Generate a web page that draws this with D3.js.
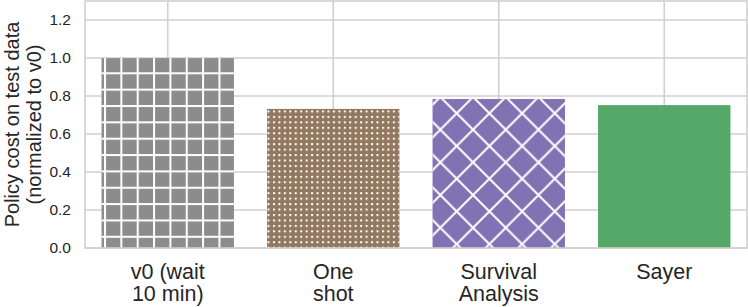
<!DOCTYPE html>
<html>
<head>
<meta charset="utf-8">
<script src="https://cdn.jsdelivr.net/npm/d3@7"></script>
<style>
  html, body { margin: 0; padding: 0; background: #fff; }
  svg { display: block; font-family: "Liberation Sans", Arial, sans-serif; }
</style>
</head>
<body>
<svg id="chart" width="748" height="307"></svg>
<script>
// data
const categories = ['v0 (wait\n10 min)', 'One\nshot', 'Survival\nAnalysis', 'Sayer'];
const values = [1.0, 0.732, 0.784, 0.752];
const colors = ['#8c8c8c', '#937860', '#8172b3', '#55a868'];
const hatches = ['plus', 'dots', 'cross', 'none'];
const yTicks = [0.0, 0.2, 0.4, 0.6, 0.8, 1.0, 1.2];

const margin = { left: 85, right: 1, top: 1, bottom: 59 };
const width = 748, height = 307;

const svg = d3.select('#chart');
const gridColor = '#d0d0d0';
const textColor = '#262626';

const x = d3.scaleBand()
  .domain(d3.range(categories.length))
  .range([margin.left, width - margin.right])
  .paddingInner(0.2)
  .paddingOuter(0.1);

const y = d3.scaleLinear()
  .domain([0, 1.3])
  .range([height - margin.bottom, margin.top]);

// hatch patterns (white, tiled in page space like matplotlib)
const defs = svg.append('defs');
const cell = 16.35;

const plus = defs.append('pattern')
  .attr('id', 'hatch-plus')
  .attr('patternUnits', 'userSpaceOnUse')
  .attr('x', 104).attr('y', 72.3)
  .attr('width', cell).attr('height', cell);
plus.append('rect').attr('x', 0).attr('y', 0).attr('width', 2).attr('height', cell).attr('fill', '#fff');
plus.append('rect').attr('x', 0).attr('y', 0).attr('width', cell).attr('height', 2).attr('fill', '#fff');

const dotCell = cell / 3;
const dots = defs.append('pattern')
  .attr('id', 'hatch-dots')
  .attr('patternUnits', 'userSpaceOnUse')
  .attr('x', 104).attr('y', 72.3)
  .attr('width', dotCell).attr('height', dotCell);
dots.append('rect').attr('x', 0).attr('y', 0).attr('width', 2).attr('height', 2).attr('fill', '#fff');

const xc = cell * 2;
const cross = defs.append('pattern')
  .attr('id', 'hatch-cross')
  .attr('patternUnits', 'userSpaceOnUse')
  .attr('x', 456.7 - cell).attr('y', 113.3 - cell)
  .attr('width', xc).attr('height', xc);
cross.append('path')
  .attr('d', `M-3,-3L${xc + 3},${xc + 3}M-3,${xc + 3}L${xc + 3},-3`)
  .attr('stroke', '#fff').attr('stroke-width', 2).attr('fill', 'none');

// grid
const grid = svg.append('g');
grid.selectAll('line.h')
  .data(yTicks)
  .join('line')
  .attr('class', 'h')
  .attr('x1', margin.left).attr('x2', width - margin.right)
  .attr('y1', d => y(d)).attr('y2', d => y(d))
  .attr('stroke', gridColor).attr('stroke-width', 1.6);
grid.selectAll('line.v')
  .data(d3.range(categories.length))
  .join('line')
  .attr('class', 'v')
  .attr('x1', d => x(d) + x.bandwidth() / 2).attr('x2', d => x(d) + x.bandwidth() / 2)
  .attr('y1', y.range()[0]).attr('y2', y.range()[1])
  .attr('stroke', gridColor).attr('stroke-width', 1.6);

// bars
const bars = svg.append('g');
bars.selectAll('rect.bar')
  .data(values)
  .join('rect')
  .attr('class', 'bar')
  .attr('x', (d, i) => x(i))
  .attr('width', x.bandwidth())
  .attr('y', d => y(d))
  .attr('height', d => y(0) - y(d))
  .attr('fill', (d, i) => colors[i]);
bars.selectAll('rect.hatch')
  .data(values.map((v, i) => ({ v, i })).filter(d => hatches[d.i] !== 'none'))
  .join('rect')
  .attr('class', 'hatch')
  .attr('x', d => x(d.i))
  .attr('width', x.bandwidth())
  .attr('y', d => y(d.v))
  .attr('height', d => y(0) - y(d.v))
  .attr('fill', d => `url(#hatch-${hatches[d.i]})`);

// frame
svg.append('rect')
  .attr('x', margin.left).attr('y', margin.top)
  .attr('width', width - margin.right - margin.left)
  .attr('height', y(0) - margin.top)
  .attr('fill', 'none').attr('stroke', gridColor).attr('stroke-width', 1.6);

// y axis
const yAxis = d3.axisLeft(y).tickValues(yTicks).tickFormat(d3.format('.1f')).tickSize(0).tickPadding(14);
svg.append('g')
  .attr('transform', `translate(${margin.left},0)`)
  .call(yAxis)
  .call(g => g.select('.domain').remove())
  .call(g => g.selectAll('text')
    .attr('fill', textColor)
    .style('font-size', '15.5px')
    .style('font-family', '"Liberation Sans", Arial, sans-serif'));

// x axis labels (multi-line)
const xAxis = d3.axisBottom(x).tickSize(0).tickFormat('');
const xg = svg.append('g')
  .attr('transform', `translate(0,${y(0)})`)
  .call(xAxis)
  .call(g => g.select('.domain').remove());
xg.selectAll('.tick').each(function (d) {
  const lines = categories[d].split('\n');
  const t = d3.select(this).append('text')
    .attr('fill', textColor)
    .attr('text-anchor', 'middle')
    .style('font-size', '21.5px');
  lines.forEach((s, k) => {
    t.append('tspan').attr('x', 0).attr('y', 31 + k * 22).text(s);
  });
});

// y label
const yl = svg.append('text')
  .attr('transform', `translate(0,${(y(0) + margin.top) / 2}) rotate(-90)`)
  .attr('text-anchor', 'middle')
  .attr('fill', textColor)
  .style('font-size', '20px');
yl.append('tspan').attr('x', 0).attr('y', 19).text('Policy cost on test data');
yl.append('tspan').attr('x', 0).attr('y', 41).text('(normalized to v0)');
</script>
</body>
</html>
